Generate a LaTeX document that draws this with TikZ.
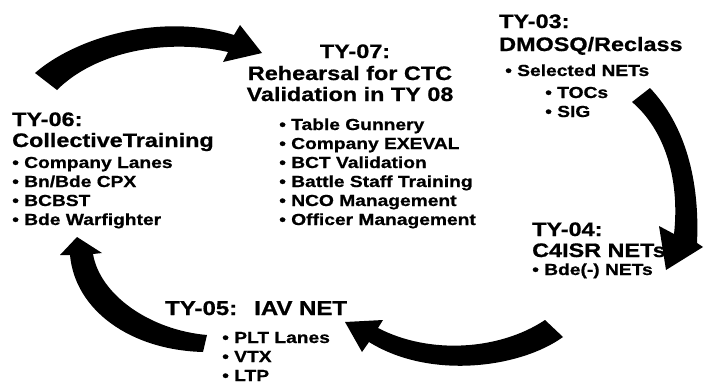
\documentclass[tikz,border=0pt]{standalone}
\usepackage{fontspec}
\newfontfamily\arfont[FakeStretch=1.2,FakeBold=0.8]{Liberation Sans}
\tikzset{
  ttl/.style={font=\arfont\bfseries\fontsize{19.5}{21}\selectfont, anchor=base west, inner sep=0pt},
  ttlc/.style={ttl, anchor=base},
  itm/.style={font=\arfont\bfseries\fontsize{16}{18}\selectfont, anchor=base west, inner sep=0pt},
  bigarrow/.style={fill=black}
}
\begin{document}
\begin{tikzpicture}[x=1pt,y=-1pt]
\useasboundingbox (0,0) rectangle (704,383);
% ---- arrows ----
% top-left arrow (TY-06 -> TY-07)
\fill[bigarrow] (35,73) .. controls (75,38) and (160,12) .. (234,35)
  -- (240,25) -- (262,53) -- (223,62) -- (228,52)
  .. controls (165,38) and (95,52) .. (57,90) -- cycle;
% right arrow (TY-03 -> TY-04)
\fill[bigarrow] (650,88) .. controls (685,125) and (700,180) .. (697,243)
  -- (703,247) -- (666,270) -- (659,226) -- (674,234)
  .. controls (680,180) and (665,130) .. (632,102) -- cycle;
% bottom arrow (TY-04 -> TY-05)
\fill[bigarrow] (563,337) .. controls (520,368) and (430,380) .. (369,342)
  -- (362,352) -- (345,322) -- (383,320) -- (378,328)
  .. controls (430,355) and (500,350) .. (545,320) -- cycle;
% left arrow (TY-05 -> TY-06)
\fill[bigarrow] (203,352) .. controls (130,350) and (75,310) .. (70,255)
  -- (60,255) -- (77,237) -- (102,253) -- (93,254)
  .. controls (100,295) and (150,330) .. (207,335) -- cycle;
% ---- TY-06 ----
\node[ttl] (t06a) at (12,126) {TY-06:};
\node[ttl] (t06b) at (12,147) {CollectiveTraining};
\node[itm] (t06c) at (12,168) {• Company Lanes};
\node[itm] (t06d) at (12,187) {• Bn/Bde CPX};
\node[itm] (t06e) at (12,206) {• BCBST};
\node[itm] (t06f) at (12,225) {• Bde Warfighter};
% ---- TY-07 ----
\node[ttlc] (t07a) at (355,58) {TY-07:};
\node[ttlc] (t07b) at (350,80) {Rehearsal for CTC};
\node[ttlc] (t07c) at (350,101) {Validation in TY 08};
\node[itm] (t07d) at (279,130) {• Table Gunnery};
\node[itm] (t07e) at (279,149) {• Company EXEVAL};
\node[itm] (t07f) at (279,168) {• BCT Validation};
\node[itm] (t07g) at (279,187) {• Battle Staff Training};
\node[itm] (t07h) at (279,206) {• NCO Management};
\node[itm] (t07i) at (279,225) {• Officer Management};
% ---- TY-03 ----
\node[ttl] (t03a) at (499,28) {TY-03:};
\node[ttl] (t03b) at (499,51) {DMOSQ/Reclass};
\node[itm] (t03c) at (505,76) {• Selected NETs};
\node[itm] (t03d) at (545,98) {• TOCs};
\node[itm] (t03e) at (545,117) {• SIG};
% ---- TY-04 ----
\node[ttl] (t04a) at (532,236) {TY-04:};
\node[ttl] (t04b) at (532,257) {C4ISR NETs};
\node[itm] (t04c) at (532,275) {• Bde(-) NETs};
% ---- TY-05 ----
\node[ttl, font=\arfont\bfseries\fontsize{20}{22}\selectfont] (t05a) at (165,315) {TY-05:\hspace{17pt}IAV NET};
\node[itm] (t05b) at (222,343) {• PLT Lanes};
\node[itm] (t05c) at (222,362) {• VTX};
\node[itm] (t05d) at (222,381) {• LTP};
\end{tikzpicture}
\end{document}
